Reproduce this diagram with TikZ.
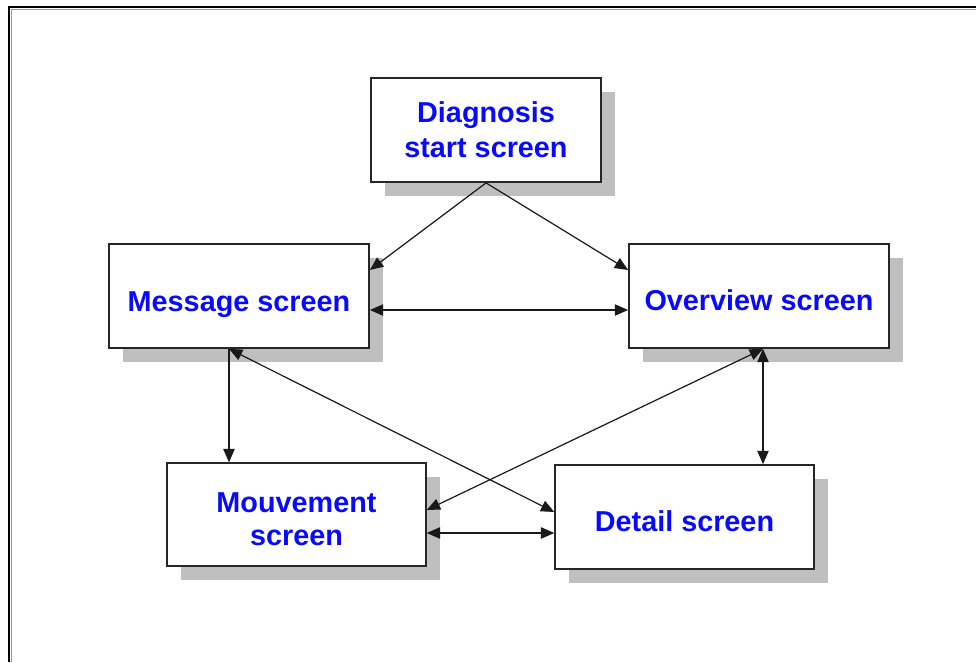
\documentclass[tikz,border=0pt]{standalone}
\usepackage{fontspec}
\setmainfont{Liberation Sans}
\usetikzlibrary{arrows.meta,calc,shadows}
\definecolor{txtblue}{RGB}{10,10,250}
\newcommand\scrtext[2]{\raisebox{-#1}[0pt][0pt]{\begin{tabular}[b]{@{}c@{}}#2\end{tabular}}}
\tikzset{
  screenbox/.style={draw=black!85, line width=1.3pt, fill=white, rectangle,
    inner sep=0pt, text=txtblue, font=\fontsize{21.6}{26.25}\selectfont\bfseries,
    drop shadow={shadow xshift=10.5pt, shadow yshift=-10.5pt, opacity=1, fill=black!25}},
  tip/.tip={Triangle[length=10pt,width=8.5pt]},
  link/.style={line width=0.9pt, black!90, -tip},
  dlink/.style={line width=0.9pt, black!90, tip-tip}
}
\begin{document}
\begin{tikzpicture}[x=0.75pt,y=-0.75pt]
\useasboundingbox (0,0) rectangle (976,662);
\fill[white] (0,0) rectangle (976,662);
% frame (top and left edges)
\draw[black, line width=1.5pt] (8,7) -- (976,7);
\draw[black, line width=1.5pt] (9,6) -- (9,662);
\draw[black!40, line width=0.75pt] (10.5,9) -- (976,9);
\draw[black!40, line width=0.75pt] (11,8.5) -- (11,662);

\node[screenbox, minimum width=172.5pt, minimum height=78pt] (D) at (486,130) {\scrtext{20.25pt}{Diagnosis\\start screen}};
\node[screenbox, minimum width=195pt, minimum height=78pt] (M) at (239,296) {\scrtext{11.5pt}{Message screen}};
\node[screenbox, minimum width=195pt, minimum height=78pt] (O) at (759,296) {\scrtext{11pt}{Overview screen}};
\node[screenbox, minimum width=194pt, minimum height=77pt] (V) at (296.5,514.5) {\scrtext{22.9pt}{Mouvement\\[-1.5pt]screen}};
\node[screenbox, minimum width=194pt, minimum height=78pt] (T) at (684.5,517) {\scrtext{11pt}{Detail screen}};

\coordinate (mb) at ($(M.south)+(-10,0)$);
\coordinate (ob) at ($(O.south)+(4,0)$);

\draw[link] (D.south) -- ($(M.east)+(0,-26)$);
\draw[link] (D.south) -- ($(O.west)+(0,-26)$);
\draw[dlink] ($(M.east)+(0,14)$) -- ($(O.west)+(0,14)$);
\draw[link] (mb) -- (mb |- V.north);
\draw[dlink] (mb) -- ($(T.west)+(0,-5)$);
\draw[dlink] (ob) -- (ob |- T.north);
\draw[dlink] (ob) -- ($(V.east)+(0,-4.5)$);
\draw[dlink] ($(V.east)+(0,18.5)$) -- ($(T.west)+(0,16)$);
\end{tikzpicture}
\end{document}
